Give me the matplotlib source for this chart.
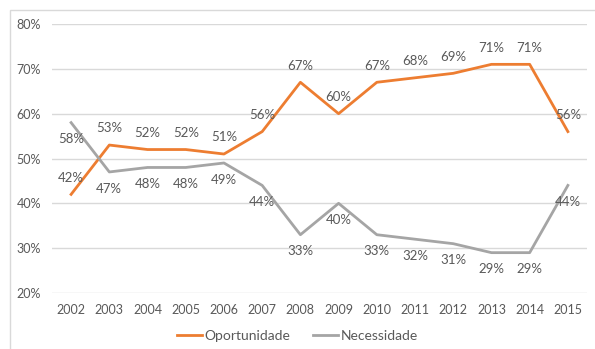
import numpy as np
import matplotlib.pyplot as plt
from matplotlib.patches import Rectangle

# dados (% por ano)
anos = [str(a) for a in range(2002, 2016)]
oportunidade = [42, 53, 52, 52, 51, 56, 67, 60, 67, 68, 69, 71, 71, 56]
necessidade = [58, 47, 48, 48, 49, 44, 33, 40, 33, 32, 31, 29, 29, 44]

plt.rcParams['font.family'] = ['Lato', 'DejaVu Sans']
cor_texto = '#595959'
laranja = '#ED7D31'
cinza = '#A5A5A5'

fig = plt.figure(figsize=(5.95, 3.49), dpi=100)
fig.patches.append(Rectangle((10/595, -0.01), 1.0, 1 - 10/349 + 0.01,
                             transform=fig.transFigure, fill=False,
                             edgecolor='#D9D9D9', linewidth=1))
ax = fig.add_axes([52/595, 1 - 293/349, 535/595, 269/349])

x = np.arange(len(anos))
op = np.array(oportunidade) / 100
ne = np.array(necessidade) / 100
ax.plot(x, op, color=laranja, linewidth=2, label='Oportunidade')
ax.plot(x, ne, color=cinza, linewidth=2, label='Necessidade')

for xi, v in zip(x, oportunidade):
    ax.annotate(f'{v}%', (xi, v / 100), xytext=(0, 12), textcoords='offset points',
                ha='center', va='center', fontsize=9.5, color=cor_texto)
for xi, v in zip(x, necessidade):
    ax.annotate(f'{v}%', (xi, v / 100), xytext=(0, -12), textcoords='offset points',
                ha='center', va='center', fontsize=9.5, color=cor_texto)

ax.set_xlim(-0.5, len(anos) - 0.5)
ax.set_ylim(0.2, 0.8)
ax.set_yticks(np.arange(0.2, 0.81, 0.1))
ax.set_yticklabels([f'{int(round(t*100))}%' for t in np.arange(0.2, 0.81, 0.1)])
ax.set_xticks(x)
ax.set_xticklabels(anos)
ax.tick_params(length=0, labelsize=9, colors=cor_texto, pad=8)
ax.grid(axis='y', color='#D9D9D9', linewidth=1)
ax.set_axisbelow(True)
for s in ax.spines.values():
    s.set_visible(False)

fig.legend(loc='lower center', bbox_to_anchor=(0.5, -0.015), ncol=2, frameon=False,
           fontsize=10, labelcolor=cor_texto, handlelength=1.8, handletextpad=0.2,
           columnspacing=1.6)

fig.savefig('out.png', dpi=100)
